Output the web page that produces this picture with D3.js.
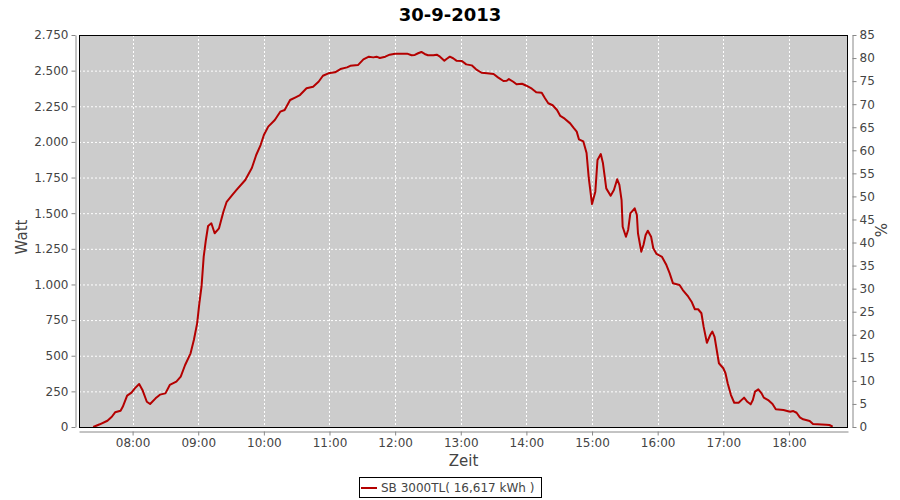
<!DOCTYPE html>
<html><head><meta charset="utf-8">
<script src="https://cdn.jsdelivr.net/npm/d3@7"></script>
<style>body{margin:0;background:#fff}svg{display:block}text{font-family:"DejaVu Sans",sans-serif}</style>
</head><body><svg id="c" width="900" height="500"></svg>
<script>
const title = "30-9-2013";
const seriesName = "SB 3000TL( 16,617 kWh )";
const times = ["07:24","07:30","07:37","07:41","07:44","07:49","07:51","07:55","07:59","08:02","08:06","08:09","08:13","08:16","08:21","08:25","08:30","08:34","08:40","08:44","08:48","08:53","08:56","08:59","09:01","09:03","09:05","09:07","09:09","09:12","09:15","09:19","09:23","09:26","09:31","09:35","09:43","09:49","09:53","09:57","10:00","10:04","10:10","10:15","10:19","10:24","10:29","10:33","10:39","10:45","10:50","10:54","10:59","11:05","11:10","11:16","11:19","11:26","11:31","11:36","11:40","11:43","11:46","11:51","11:55","12:00","12:11","12:15","12:18","12:21","12:24","12:27","12:30","12:35","12:38","12:41","12:45","12:47","12:50","12:53","12:56","13:01","13:05","13:10","13:14","13:19","13:24","13:30","13:34","13:39","13:42","13:44","13:48","13:51","13:56","14:00","14:05","14:09","14:14","14:17","14:20","14:24","14:28","14:31","14:35","14:40","14:43","14:46","14:48","14:52","14:55","14:57","15:00","15:03","15:05","15:08","15:10","15:13","15:17","15:20","15:23","15:25","15:27","15:28","15:31","15:33","15:35","15:39","15:41","15:42","15:45","15:47","15:49","15:51","15:54","15:56","15:59","16:04","16:08","16:11","16:14","16:20","16:23","16:28","16:31","16:34","16:37","16:40","16:42","16:45","16:48","16:50","16:52","16:54","16:56","17:00","17:02","17:04","17:07","17:10","17:14","17:19","17:22","17:25","17:27","17:29","17:32","17:35","17:37","17:41","17:45","17:48","17:55","18:01","18:04","18:07","18:10","18:13","18:19","18:22","18:34","18:37","18:40"];
const watts = [0,19,44,72,103,114,142,220,241,271,302,260,177,161,201,227,236,295,318,353,435,517,610,727,868,984,1195,1312,1410,1429,1359,1394,1510,1580,1627,1663,1733,1817,1908,1978,2048,2107,2154,2212,2224,2294,2313,2329,2376,2387,2422,2464,2481,2488,2511,2523,2534,2539,2579,2598,2593,2598,2589,2598,2612,2619,2619,2608,2610,2622,2631,2617,2608,2608,2612,2598,2570,2582,2598,2587,2570,2568,2544,2537,2509,2485,2481,2476,2453,2427,2429,2441,2422,2404,2408,2394,2373,2348,2345,2306,2271,2257,2224,2182,2163,2130,2100,2072,2018,2004,1922,1747,1564,1651,1873,1915,1850,1674,1623,1663,1738,1698,1592,1405,1335,1382,1499,1534,1487,1359,1230,1277,1347,1377,1335,1254,1214,1193,1136,1078,1008,996,961,914,879,826,826,798,704,591,645,669,633,540,447,412,377,307,224,170,170,206,177,159,189,248,264,236,206,189,161,124,119,107,112,100,68,54,42,21,16,14,2];
const wattTicks = [0,250,500,750,1000,1250,1500,1750,2000,2250,2500,2750];
const pctTicks = [0,5,10,15,20,25,30,35,40,45,50,55,60,65,70,75,80,85];
const hourTicks = ["08:00","09:00","10:00","11:00","12:00","13:00","14:00","15:00","16:00","17:00","18:00"];
const xStart = "07:11", xEnd = "18:54";

const parse = d3.timeParse("%H:%M");
const data = times.map((t,i)=>({t:parse(t), v:watts[i]}));
const L=79, R=848, T=35, B=427;
const svg = d3.select("#c");
const x = d3.scaleTime().domain([parse(xStart), parse(xEnd)]).range([L,R]);
const y = d3.scaleLinear().domain([0,2750]).range([B,T]);
const y2 = d3.scaleLinear().domain([0,85]).range([B,T]);
const fmt = v => d3.format(",")(v).replace(/,/g,".");
const tickCol = "#444";

svg.append("text").attr("x",450).attr("y",21).attr("text-anchor","middle")
  .attr("font-size",18).attr("font-weight","bold").attr("fill","#000").text(title);

svg.append("rect").attr("x",L).attr("y",T).attr("width",R-L).attr("height",B-T).attr("fill","#cccccc");
const g = svg.append("g");
g.selectAll(".hg").data(wattTicks.slice(1)).join("line")
  .attr("x1",L).attr("x2",R).attr("y1",d=>y(d)+0.5).attr("y2",d=>y(d)+0.5)
  .attr("stroke","#fff").attr("stroke-dasharray","2,2");
g.selectAll(".vg").data(hourTicks).join("line")
  .attr("x1",d=>Math.round(x(parse(d)))+0.5).attr("x2",d=>Math.round(x(parse(d)))+0.5).attr("y1",T).attr("y2",B)
  .attr("stroke","#fff").attr("stroke-dasharray","2,2");

const line = d3.line().x(d=>x(d.t)).y(d=>y(d.v));
svg.append("path").datum(data).attr("d",line).attr("fill","none")
  .attr("stroke","#b40000").attr("stroke-width",2).attr("stroke-linejoin","round");

svg.append("rect").attr("x",L+0.5).attr("y",T+0.5).attr("width",R-L-1).attr("height",B-T).attr("fill","none").attr("stroke","#000");

function styleAxis(sel){
  sel.select(".domain").attr("stroke","#888");
  sel.selectAll(".tick line").attr("stroke","#888");
  sel.selectAll(".tick text").attr("fill",tickCol).attr("font-size",12).attr("font-family","DejaVu Sans, sans-serif");
}
const ax = svg.append("g").attr("transform",`translate(0,${B+4.5})`)
  .call(d3.axisBottom(x).tickValues(hourTicks.map(parse)).tickFormat(d3.timeFormat("%H:%M")).tickSize(4).tickSizeOuter(0).tickPadding(3));
styleAxis(ax);
const ay = svg.append("g").attr("transform",`translate(${L-3.5},0)`)
  .call(d3.axisLeft(y).tickValues(wattTicks).tickFormat(fmt).tickSize(4).tickSizeOuter(0).tickPadding(3));
styleAxis(ay);
const ay2 = svg.append("g").attr("transform",`translate(${R+4.5},0)`)
  .call(d3.axisRight(y2).tickValues(pctTicks).tickSize(4).tickSizeOuter(0).tickPadding(3));
styleAxis(ay2);

svg.append("text").attr("transform","translate(27,237) rotate(-90)").attr("text-anchor","middle")
  .attr("font-size",15).attr("fill",tickCol).text("Watt");
svg.append("text").attr("transform","translate(887,230) rotate(-90)").attr("text-anchor","middle")
  .attr("font-size",15).attr("fill",tickCol).text("%");
svg.append("text").attr("x",(L+R)/2).attr("y",466).attr("text-anchor","middle")
  .attr("font-size",15).attr("fill",tickCol).text("Zeit");

const lg = svg.append("g");
lg.append("rect").attr("x",359.5).attr("y",477.5).attr("width",182).attr("height",20).attr("fill","#fff").attr("stroke","#000");
lg.append("line").attr("x1",361).attr("x2",377).attr("y1",488).attr("y2",488).attr("stroke","#b40000").attr("stroke-width",2);
lg.append("text").attr("x",381).attr("y",492).attr("font-size",12).attr("fill",tickCol).text(seriesName);
</script></body></html>
